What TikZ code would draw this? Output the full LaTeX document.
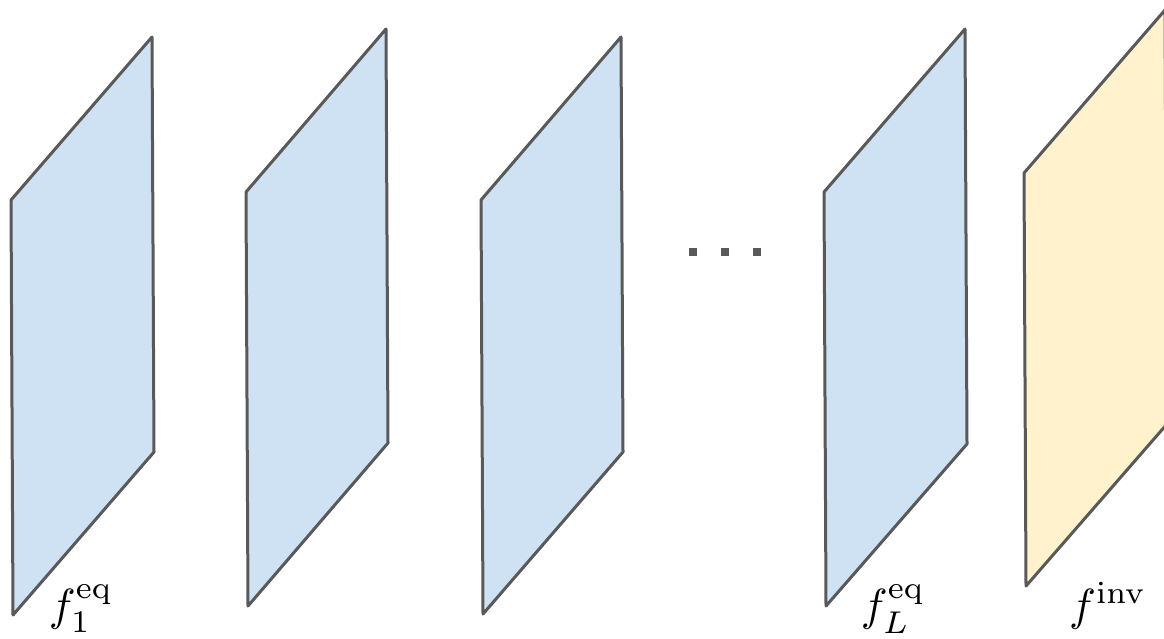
\documentclass[tikz,border=0pt]{standalone}
\usepackage{amsmath}
\definecolor{edgegray}{HTML}{595959}
\definecolor{panelblue}{HTML}{CFE2F3}
\definecolor{panelyellow}{HTML}{FFF2CC}
\tikzset{
  panel/.style={draw=edgegray, line width=3pt, line join=round},
  bluepanel/.style={panel, fill=panelblue},
  yellowpanel/.style={panel, fill=panelyellow},
  dotsq/.style={fill=edgegray, draw=none},
  lbl/.style={inner sep=0pt, scale=4.5}
}
\begin{document}
\begin{tikzpicture}[x=1pt,y=-1pt]
\useasboundingbox (0,0) rectangle (1164,638);
\clip (0,0) rectangle (1164,638);
\draw[bluepanel] (11,200) -- (152,37) -- (154,452) -- (13,615) -- cycle;
\draw[bluepanel] (246,192) -- (386,29) -- (388,443) -- (248,606) -- cycle;
\draw[bluepanel] (481,200) -- (621,37) -- (623,452) -- (483,614) -- cycle;
\draw[bluepanel] (824,192) -- (965,29) -- (967,444) -- (826,606) -- cycle;
\draw[yellowpanel] (1024,173) -- (1165,10) -- (1167,424) -- (1026,586) -- cycle;
\foreach \x in {693,725,757} \fill[dotsq] (\x-4,248) rectangle (\x+4,256);
\node[lbl, anchor=base] (l1) at (81,620) {$f_1^{\mathrm{eq}}$};
\node[lbl, anchor=base] (lL) at (893,620) {$f_L^{\mathrm{eq}}$};
\node[lbl, anchor=base] (linv) at (1108,620) {$f^{\mathrm{inv}}$};
\end{tikzpicture}
\end{document}
